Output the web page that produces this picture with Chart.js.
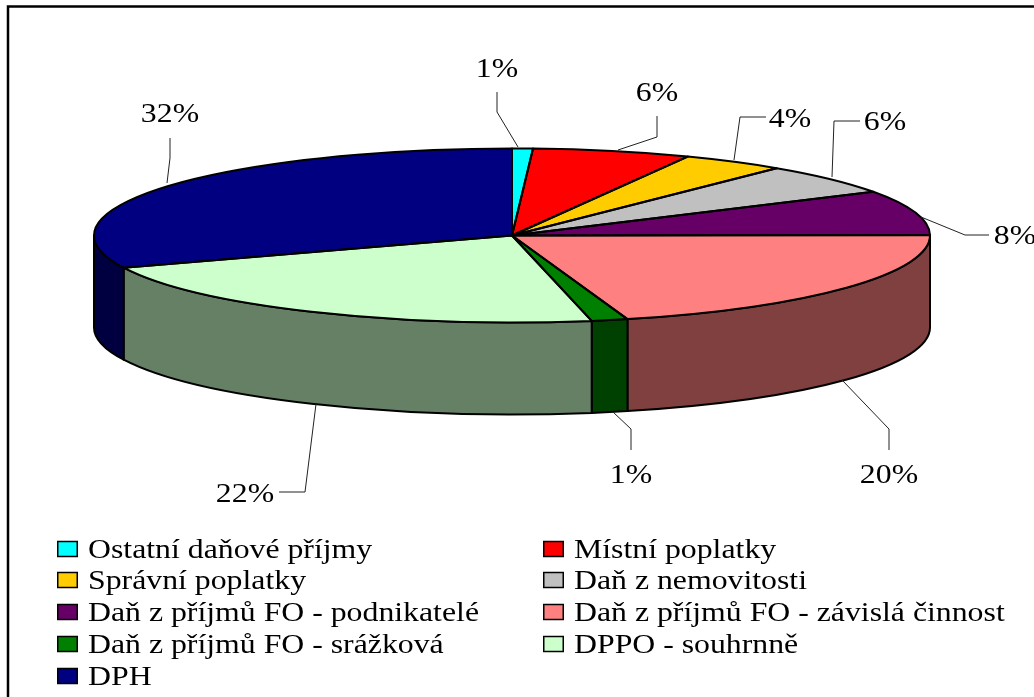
<!DOCTYPE html>
<html><head><meta charset="utf-8">
<style>html,body{margin:0;padding:0;background:#fff;overflow:hidden}#w{position:absolute;left:0;top:0;width:1034px;height:697px}</style>
<script src="https://cdn.jsdelivr.net/npm/chart.js@4"></script></head>
<body><div id="w"><canvas id="c"></canvas></div>
<script>
const categories = ['Ostatní daňové příjmy','Místní poplatky','Správní poplatky','Daň z nemovitosti','Daň z příjmů FO - podnikatelé','Daň z příjmů FO - závislá činnost','Daň z příjmů FO - srážková','DPPO - souhrnně','DPH'];
const shares = [0.8,6.1,4.0,5.7,8.3,20.6,1.4,22.0,31.0];
const percentLabels = ['1%','6%','4%','6%','8%','20%','1%','22%','32%'];
const topColors = ['#00FFFF','#FF0000','#FFCC00','#C0C0C0','#660066','#FF8080','#008000','#CCFFCC','#000080'];
const sideColors = ['#008080','#800000','#806600','#606060','#330033','#804040','#004000','#668066','#000040'];
// label placement: text centre and leader polyline, as page furniture
const labelText = [[497,70],[657,94],[790,120],[885,123],[1015,237],[889,476],[631,476],[245,495],[170,115]];
const leaders = [
 [[497,92],[497,112],[518,147]],
 [[657,116],[657,137],[618,150]],
 [[766,117],[740,117],[734,160]],
 [[860,121],[834,121],[832,177]],
 [[989,235],[965,235],[921,217]],
 [[889,450],[889,429],[842,380]],
 [[631,450],[631,429],[613,412]],
 [[279,492],[305,492],[316,404]],
 [[170,138],[170,158],[167,183]]
];
const legendCols = [57,543], legendRows = [551,582,614,646,678];
const CX=512, CY=235.5, RX=418, RY=87, DEPTH=92, FONT='28px "Liberation Serif"', TXS=1.135;

function wedgePath(ctx,s,e){ctx.beginPath();ctx.moveTo(CX,CY);ctx.ellipse(CX,CY,RX,RY,0,s,e);ctx.closePath();}
function stretchedText(ctx,t,x,y,align){
  ctx.save();ctx.font=FONT;ctx.fillStyle='#000';ctx.textBaseline='middle';ctx.textAlign=align;
  ctx.translate(x,y);ctx.scale(TXS,1);ctx.fillText(t,0,0);ctx.restore();
}
const pie3d={
 id:'pie3d',
 beforeDraw(chart){
  const ctx=chart.ctx;ctx.save();ctx.fillStyle='#fff';ctx.fillRect(0,0,1034,697);
  ctx.strokeStyle='#000';ctx.lineWidth=2.5;ctx.strokeRect(8,6.5,1100,800);ctx.restore();
 },
 beforeDatasetsDraw(chart){
  const ctx=chart.ctx,arcs=chart.getDatasetMeta(0).data;
  ctx.save();ctx.strokeStyle='#000';ctx.lineWidth=2;ctx.lineJoin='round';
  arcs.forEach((a,i)=>{
    let s=a.startAngle,e=a.endAngle;
    const lo=Math.max(s,0),hi=Math.min(e,Math.PI);
    if(hi<=lo)return;
    ctx.beginPath();ctx.ellipse(CX,CY,RX,RY,0,lo,hi);
    ctx.lineTo(CX+RX*Math.cos(hi),CY+RY*Math.sin(hi)+DEPTH);
    ctx.ellipse(CX,CY+DEPTH,RX,RY,0,hi,lo,true);ctx.closePath();
    ctx.fillStyle=sideColors[i];ctx.fill();ctx.stroke();
  });
  ctx.restore();
  const p=arcs[0],R=p.outerRadius;
  ctx.save();ctx.translate(CX,CY);ctx.scale(RX/R,RY/R);ctx.translate(-p.x,-p.y);
 },
 afterDatasetsDraw(chart){
  const ctx=chart.ctx,arcs=chart.getDatasetMeta(0).data;
  ctx.restore();
  ctx.save();ctx.strokeStyle='#000';ctx.lineWidth=2;ctx.lineJoin='round';
  arcs.forEach(a=>{wedgePath(ctx,a.startAngle,a.endAngle);ctx.stroke();});
  ctx.restore();
  ctx.save();ctx.strokeStyle='#222';ctx.lineWidth=1;
  leaders.forEach(l=>{ctx.beginPath();l.forEach((q,j)=>j?ctx.lineTo(q[0],q[1]):ctx.moveTo(q[0],q[1]));ctx.stroke();});
  ctx.restore();
  percentLabels.forEach((t,i)=>stretchedText(ctx,t,labelText[i][0],labelText[i][1],'center'));
  categories.forEach((t,i)=>{
    const x=legendCols[i%2],y=legendRows[Math.floor(i/2)];
    ctx.save();ctx.fillStyle=topColors[i];ctx.strokeStyle='#000';ctx.lineWidth=1.5;
    ctx.fillRect(x+.75,y-9.5,19.5,15);ctx.strokeRect(x+.75,y-9.5,19.5,15);ctx.restore();
    stretchedText(ctx,t,x+31,y,'left');
  });
 }
};
new Chart(document.getElementById('c'),{
 type:'pie',
 data:{labels:categories,datasets:[{data:shares,backgroundColor:topColors,borderWidth:0}]},
 options:{responsive:true,maintainAspectRatio:false,animation:false,
  plugins:{legend:{display:false},tooltip:{enabled:false}}},
 plugins:[pie3d]
});
</script></body></html>
